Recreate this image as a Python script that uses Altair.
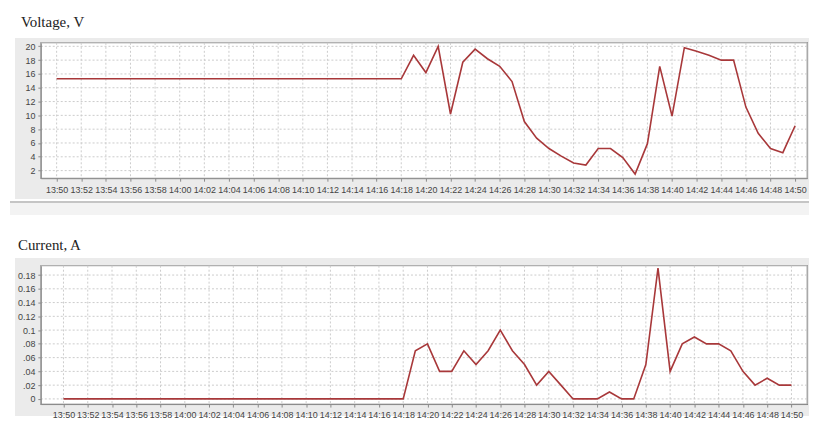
import altair as alt
import pandas as pd

# ---------------- data ----------------
flat_times = [f"13:{m:02d}" for m in range(50, 60)] + [f"14:{m:02d}" for m in range(0, 19)]
late_times = [f"14:{m:02d}" for m in range(19, 51)]
times = flat_times + late_times

voltage_flat = [15.3] * len(flat_times)
voltage_late = [18.7, 16.2, 20.0, 10.2, 17.7, 19.6, 18.2, 17.1, 14.9, 9.1, 6.7, 5.2,
                4.1, 3.1, 2.8, 5.2, 5.2, 3.9, 1.5, 5.9, 17.1, 9.9, 19.8, 19.3, 18.7,
                18.0, 18.0, 11.2, 7.4, 5.2, 4.6, 8.5]
current_flat = [0.0] * len(flat_times)
current_late = [0.07, 0.08, 0.04, 0.04, 0.07, 0.05, 0.07, 0.10, 0.07, 0.05, 0.02, 0.04,
                0.02, 0.0, 0.0, 0.0, 0.01, 0.0, 0.0, 0.05, 0.19, 0.04, 0.08, 0.09, 0.08,
                0.08, 0.07, 0.04, 0.02, 0.03, 0.02, 0.02]

x_tick_labels = ["13:50", "13:52", "13:54", "13:56", "13:58", "14:00", "14:02", "14:04",
                 "14:06", "14:08", "14:10", "14:12", "14:14", "14:16", "14:18", "14:20",
                 "14:22", "14:24", "14:26", "14:28", "14:30", "14:32", "14:34", "14:36",
                 "14:38", "14:40", "14:42", "14:44", "14:46", "14:48", "14:50"]
v_ticks = [2, 4, 6, 8, 10, 12, 14, 16, 18, 20]
c_ticks = [0, 0.02, 0.04, 0.06, 0.08, 0.1, 0.12, 0.14, 0.16, 0.18]

DAY = "2020-01-01T"


def ts(hm):
    return DAY + hm + ":00"


def dt(h, m, s):
    return alt.DateTime(year=2020, month=1, date=1, hours=h, minutes=m, seconds=s)


df_v = pd.DataFrame({"t": [ts(t) for t in times], "v": voltage_flat + voltage_late})
df_c = pd.DataFrame({"t": [ts(t) for t in times], "v": current_flat + current_late})
df_xt = pd.DataFrame({"t": [ts(t) for t in x_tick_labels]})

LINE = "#a8383a"
GRID = "#cccccc"
PANEL = "#ebebeb"
AX = "#8a8a8a"
LBL = "#444444"


def panel(df, yticks, ydomain, xdomain, W, H, title, title_dx, title_off, gl, gr_extra,
          gtop, gbot, band, left_bound, label_expr=None):
    xs = alt.Scale(domain=xdomain)
    ys = alt.Scale(domain=ydomain, nice=False, zero=False)

    xaxis = alt.Axis(values=[dt(int(s[:2]), int(s[3:]), 0) for s in x_tick_labels],
                     format="%H:%M", labelOverlap=False, labelFlush=False, grid=False,
                     title=None, labelFont="Liberation Sans", labelFontSize=9,
                     labelColor=LBL, domainColor=AX, tickColor=AX, tickSize=3,
                     labelPadding=4, zindex=1)
    yargs = dict(values=yticks, grid=False, title=None, labelFont="Liberation Sans",
                 labelFontSize=9, labelColor=LBL, domainColor=AX, tickColor=AX,
                 tickSize=3, labelPadding=3, zindex=1)
    if label_expr:
        yargs["labelExpr"] = label_expr
    yaxis = alt.Axis(**yargs)

    base = alt.Chart(df)
    layers = []
    # invisible marker fixing the left edge of this panel's bounds
    layers.append(base.mark_rect(fill="white", clip=False).encode(
        x=alt.value(left_bound), x2=alt.value(left_bound + 1),
        y=alt.value(gtop), y2=alt.value(gtop + 1)))
    if band:
        layers.append(base.mark_rect(fill="#f3f3f3", clip=False).encode(
            x=alt.value(left_bound), x2=alt.value(W + gr_extra),
            y=alt.value(H + gbot + 3), y2=alt.value(H + gbot + 16)))
        layers.append(base.mark_rule(color="#c4c4c4", strokeWidth=1.5, clip=False).encode(
            x=alt.value(left_bound), x2=alt.value(W + gr_extra), y=alt.value(H + gbot + 3)))
    layers.append(base.mark_rect(fill=PANEL, clip=False).encode(
        x=alt.value(gl), x2=alt.value(W + gr_extra),
        y=alt.value(gtop), y2=alt.value(H + gbot)))
    layers.append(base.mark_rect(fill="white", stroke="#a8a8a8", strokeWidth=1).encode(
        x=alt.value(0), x2=alt.value(W), y=alt.value(0), y2=alt.value(H)))
    # grid lines
    layers.append(alt.Chart(df_xt).mark_rule(color=GRID, strokeDash=[2, 2], strokeWidth=1).encode(
        x=alt.X("t:T", scale=xs, axis=xaxis)))
    layers.append(alt.Chart(pd.DataFrame({"y": yticks})).mark_rule(
        color=GRID, strokeDash=[2, 2], strokeWidth=1).encode(
        y=alt.Y("y:Q", scale=ys, axis=yaxis)))
    layers.append(base.mark_line(color=LINE, strokeWidth=1.6).encode(
        x=alt.X("t:T", scale=xs, axis=xaxis),
        y=alt.Y("v:Q", scale=ys, axis=yaxis)))

    return alt.layer(*layers).properties(
        width=W, height=H,
        title=alt.TitleParams(title, anchor="start", frame="group", dx=title_dx,
                              font="Liberation Serif", fontSize=15, fontWeight="normal",
                              color="#222222", offset=title_off),
    )


p1 = panel(df_v, v_ticks, [0.9, 20.5], [dt(13, 48, 43), dt(14, 50, 58)],
           770, 136, "Voltage, V", -20, 8, -26, 2, -5, 21, True, -31)
c_expr = ("datum.value > 0.005 && datum.value < 0.095 ? "
          "replace(format(datum.value, '.2f'), '0.', '.') : format(datum.value, '.2~f')")
p2 = panel(df_c, c_ticks, [-0.0075, 0.1935], [dt(13, 48, 8), dt(14, 51, 17)],
           770, 139, "Current, A", -23, 5, -26, 2, -7.5, 12, False, -31, c_expr)

chart = alt.concat(p1, p2, columns=1, spacing=22, align="none").properties(
    padding={"left": 0, "top": 5, "right": 0, "bottom": 5}
).configure_view(stroke=None).configure(background="white")

chart.save("out.html", embed_options={"renderer": "svg", "actions": False})
